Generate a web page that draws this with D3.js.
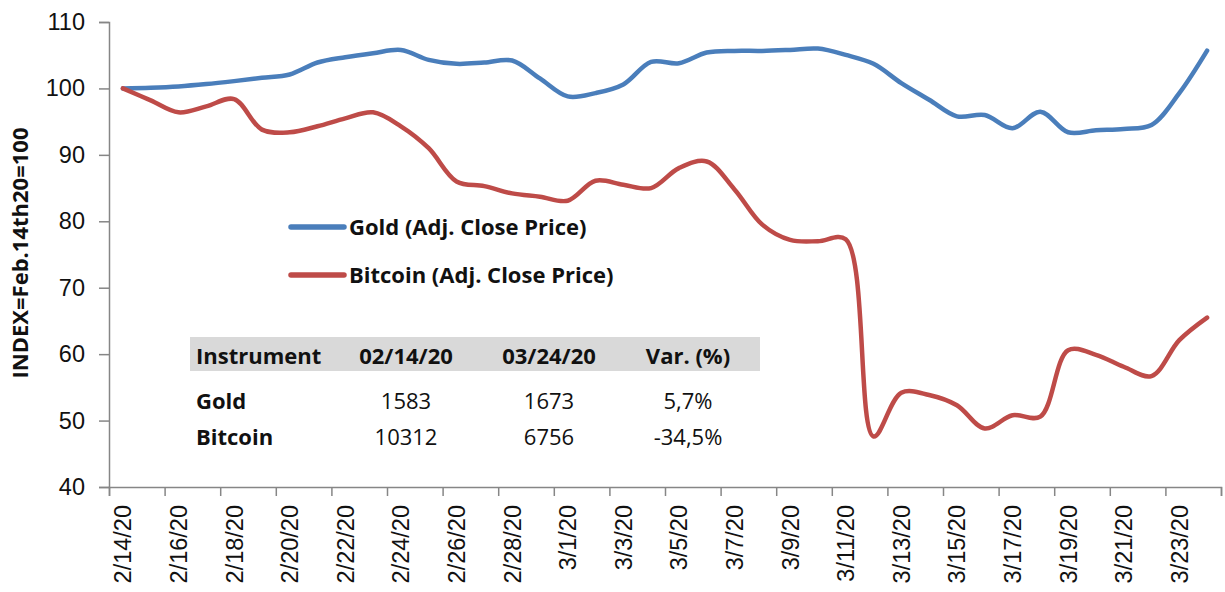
<!DOCTYPE html>
<html>
<head>
<meta charset="utf-8">
<script src="https://cdn.jsdelivr.net/npm/d3@7"></script>
<style>
  body { margin: 0; background: #fff; }
  svg { font-family: "Open Sans", sans-serif; }
</style>
</head>
<body>
<svg width="1225" height="592"></svg>
<script>
// data
var dates = ["2/14/20","2/15/20","2/16/20","2/17/20","2/18/20","2/19/20","2/20/20","2/21/20",
  "2/22/20","2/23/20","2/24/20","2/25/20","2/26/20","2/27/20","2/28/20","2/29/20",
  "3/1/20","3/2/20","3/3/20","3/4/20","3/5/20","3/6/20","3/7/20","3/8/20","3/9/20",
  "3/10/20","3/11/20","3/12/20","3/13/20","3/14/20","3/15/20","3/16/20","3/17/20",
  "3/18/20","3/19/20","3/20/20","3/21/20","3/22/20","3/23/20","3/24/20"];
var gold = [100.0, 100.1, 100.3, 100.65, 101.1, 101.6, 102.1, 103.9, 104.7, 105.3,
  105.8, 104.3, 103.7, 103.9, 104.2, 101.5, 98.8, 99.3, 100.6, 104.0,
  103.8, 105.4, 105.65, 105.65, 105.8, 106.0, 105.05, 103.7, 100.8, 98.3,
  95.8, 96.0, 94.0, 96.5, 93.4, 93.7, 93.9, 94.5, 99.3, 105.7];
var bitcoin = [100.0, 98.2, 96.4, 97.3, 98.4, 93.8, 93.4, 94.3, 95.5, 96.4,
  94.3, 91.0, 86.0, 85.3, 84.2, 83.7, 83.1, 86.1, 85.5, 85.0,
  88.0, 89.0, 84.8, 79.5, 77.2, 77.0, 77.3, 47.6, 54.2, 53.85,
  52.3, 48.8, 50.8, 50.6, 60.6, 59.9, 58.1, 56.7, 62.1, 65.5];
var yTicks = [40, 50, 60, 70, 80, 90, 100, 110];
var seriesNames = ["Gold (Adj. Close Price)", "Bitcoin (Adj. Close Price)"];
var tableHead = ["Instrument", "02/14/20", "03/24/20", "Var. (%)"];
var tableRows = [["Gold", "1583", "1673", "5,7%"],
                 ["Bitcoin", "10312", "6756", "-34,5%"]];

var goldColor = "#4a7ebb",
    btcColor = "#be4b48",
    axisColor = "#868686",
    textColor = "#111";

var svg = d3.select("svg"),
    plot = {left: 109, right: 1221, top: 22, bottom: 487};

var x = d3.scaleBand().domain(dates).range([plot.left, plot.right]).padding(0);
var xi = d3.scaleLinear().domain([0, dates.length]).range([plot.left, plot.right]);
var y = d3.scaleLinear().domain([40, 110]).range([plot.bottom, plot.top]);

// y axis
var yAxis = svg.append("g")
    .attr("transform", "translate(" + plot.left + ",0)")
    .call(d3.axisLeft(y).tickValues(yTicks).tickSize(10).tickPadding(14));
yAxis.select(".domain").attr("stroke", axisColor).attr("stroke-width", 1.5);
yAxis.selectAll(".tick line").attr("stroke", axisColor).attr("stroke-width", 1.5);
yAxis.selectAll(".tick text").attr("fill", textColor).style("font-size", "23.5px");

// x axis: tick marks on category boundaries, labels at centres
var xTickIdx = d3.range(0, dates.length + 1, 2);
var xAxis = svg.append("g")
    .attr("transform", "translate(0," + plot.bottom + ")")
    .call(d3.axisBottom(xi).tickValues(xTickIdx).tickSize(9).tickFormat(""));
xAxis.select(".domain").attr("stroke", axisColor).attr("stroke-width", 1.5);
xAxis.selectAll(".tick line").attr("stroke", axisColor).attr("stroke-width", 1.5);

var xLab = svg.append("g")
    .attr("transform", "translate(0," + plot.bottom + ")")
    .call(d3.axisBottom(x).tickValues(dates.filter(function(d, i) { return i % 2 === 0; })).tickSize(0));
xLab.select(".domain").remove();
xLab.selectAll(".tick text")
    .attr("fill", textColor)
    .style("font-size", "23.5px")
    .attr("transform", "rotate(-90)")
    .attr("text-anchor", "end")
    .attr("x", -18)
    .attr("y", 0)
    .attr("dy", "0.36em");

// y axis title
svg.append("text")
    .attr("transform", "translate(28,253) rotate(-90)")
    .attr("text-anchor", "middle")
    .attr("fill", textColor)
    .style("font-size", "22px")
    .style("font-weight", "bold")
    .text("INDEX=Feb.14th20=100");

// table
svg.append("rect")
    .attr("x", 190).attr("y", 337)
    .attr("width", 570).attr("height", 34)
    .attr("fill", "#d9d9d9");
var colX = [196, 406, 549, 688];
var rowY = [364, 409, 445];
var table = svg.append("g").style("font-size", "22px").attr("fill", textColor);
[tableHead].concat(tableRows).forEach(function(row, r) {
  row.forEach(function(cell, c) {
    table.append("text")
        .attr("x", colX[c])
        .attr("y", rowY[r])
        .attr("text-anchor", c === 0 ? "start" : "middle")
        .style("font-weight", (r === 0 || c === 0) ? "bold" : "normal")
        .text(cell);
  });
});

// lines
var line = d3.line()
    .x(function(d, i) { return x(dates[i]) + x.bandwidth() / 2; })
    .y(function(d) { return y(d); })
    .curve(d3.curveCatmullRom.alpha(0.5));

[[gold, goldColor], [bitcoin, btcColor]].forEach(function(s) {
  svg.append("path")
      .datum(s[0])
      .attr("fill", "none")
      .attr("stroke", s[1])
      .attr("stroke-width", 4.5)
      .attr("stroke-linejoin", "round")
      .attr("stroke-linecap", "round")
      .attr("d", line);
});

// legend
var legend = svg.append("g");
[goldColor, btcColor].forEach(function(c, i) {
  var ly = 227 + i * 48;
  legend.append("line")
      .attr("x1", 291).attr("x2", 344)
      .attr("y1", ly).attr("y2", ly)
      .attr("stroke", c).attr("stroke-width", 5.5)
      .attr("stroke-linecap", "round");
  legend.append("text")
      .attr("x", 349).attr("y", ly)
      .attr("dy", "0.35em")
      .attr("fill", textColor)
      .style("font-size", "22px")
      .style("font-weight", "bold")
      .text(seriesNames[i]);
});
</script>
</body>
</html>
